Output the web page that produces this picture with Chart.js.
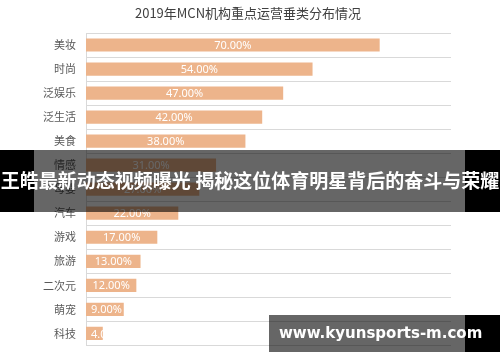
<!DOCTYPE html>
<html>
<head>
<meta charset="utf-8">
<script src="https://cdn.jsdelivr.net/npm/chart.js@4/dist/chart.umd.min.js"></script>
<style>
body { margin: 0; background: #fff; }
#wrap { position: relative; width: 500px; height: 362px; }
.band { position: absolute; left: 0; width: 500px; background: rgba(0,0,0,0.6); }
.band .cap { position: absolute; top: 0; bottom: 0; background: #000; }
.band span { position: absolute; left: 0; right: 0; text-align: center; color: #fff; font-weight: bold; white-space: nowrap; }
</style>
</head>
<body>
<div id="wrap">
  <canvas id="barChart" width="500" height="362"></canvas>
  <div class="band" style="top:150px;height:62px;">
    <div class="cap" style="left:0;width:34px;"></div>
    <div class="cap" style="left:465px;width:35px;"></div>
    <span style="top:18px;font:bold 19px 'Noto Sans CJK SC';line-height:24px;">王皓最新动态视频曝光 揭秘这位体育明星背后的奋斗与荣耀</span>
  </div>
  <div class="band" style="top:315px;height:37px;left:269px;width:231px;">
    <div class="cap" style="left:196px;width:35px;"></div>
    <span style="top:8px;left:10px;text-align:left;font:bold 15px 'DejaVu Sans';line-height:20px;">www.kyunsports-m.com</span>
  </div>
</div>
<script>
var chartTitle = "2019年MCN机构重点运营垂类分布情况";
var categories = ["美妆", "时尚", "泛娱乐", "泛生活", "美食", "情感", "母婴",
    "汽车", "游戏", "旅游", "二次元", "萌宠", "科技"];
var shares = [70, 54, 47, 42, 38, 31, 27, 22, 17, 13, 12, 9, 4];

// title centred on the whole canvas, not on the plot
var titlePlugin = {
    id: "canvasTitle",
    afterDraw: function (chart) {
        var ctx = chart.ctx;
        ctx.save();
        ctx.fillStyle = "#404040";
        ctx.font = "13px 'Noto Sans CJK SC'";
        ctx.textAlign = "center";
        ctx.textBaseline = "middle";
        ctx.fillText(chartTitle, chart.width / 2 - 2, 13);
        ctx.restore();
    }
};

// white value labels, centred in the bar but never left of its start
var labelPlugin = {
    id: "barLabels",
    afterDatasetsDraw: function (chart) {
        var ctx = chart.ctx;
        var meta = chart.getDatasetMeta(0);
        ctx.save();
        ctx.fillStyle = "#ffffff";
        ctx.font = "11px 'Noto Sans'";
        ctx.textBaseline = "middle";
        ctx.textAlign = "left";
        meta.data.forEach(function (bar, i) {
            var txt = shares[i].toFixed(2) + "%";
            var w = ctx.measureText(txt).width;
            var x = Math.max((bar.base + bar.x) / 2 - w / 2, bar.base + 5);
            ctx.fillText(txt, x, bar.y + 1);
        });
        ctx.restore();
    }
};

var ctxB = document.getElementById("barChart").getContext("2d");
var myBarChart = new Chart(ctxB, {
    type: "bar",
    data: {
        labels: categories,
        datasets: [{
            data: shares,
            backgroundColor: "#EDB48B",
            barPercentage: 0.55,
            categoryPercentage: 1
        }]
    },
    options: {
        indexAxis: "y",
        responsive: false,
        animation: false,
        layout: { padding: { left: 0, right: 49, top: 33, bottom: 13 } },
        plugins: {
            legend: { display: false },
            tooltip: { enabled: false }
        },
        scales: {
            x: { display: false, min: 0, max: 87 },
            y: {
                afterFit: function (scale) { scale.width = 86; },
                grid: { color: "#d9d9d9", drawTicks: false, offset: true },
                border: { display: true, color: "#d9d9d9" },
                ticks: { color: "#595959", padding: 10, font: { size: 11, family: "'Noto Sans CJK SC'" } }
            }
        }
    },
    plugins: [titlePlugin, labelPlugin]
});
</script>
</body>
</html>
